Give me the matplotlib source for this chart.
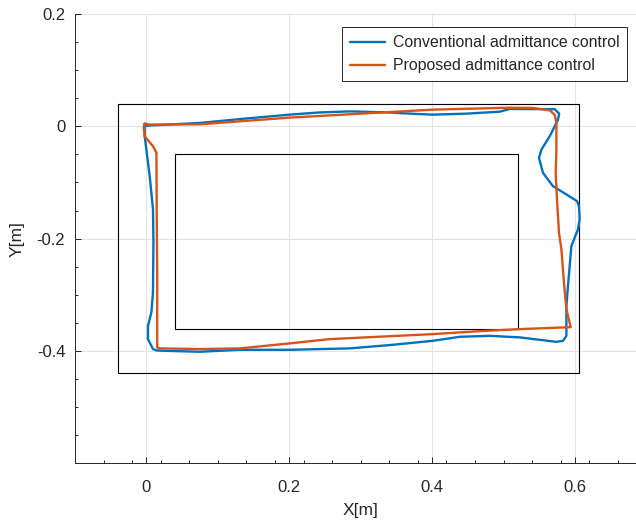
import matplotlib
matplotlib.use("Agg")
import matplotlib.pyplot as plt
from matplotlib.patches import Rectangle
from matplotlib.ticker import MultipleLocator, FixedLocator

plt.rcParams['font.family'] = ['Liberation Sans', 'DejaVu Sans']
plt.rcParams['axes.unicode_minus'] = False

# ---- data ----
conv_x = [0.0004, 0.0746, 0.1376, 0.2006, 0.2426, 0.2846, 0.3360, 0.3686, 0.4008, 0.4480,
          0.4948, 0.5086, 0.5716, 0.5779, 0.5762, 0.5646, 0.5530, 0.5496, 0.5552, 0.5692,
          0.5880, 0.6028, 0.6056, 0.6066, 0.6042, 0.5996, 0.5950, 0.5926, 0.5902, 0.5880,
          0.5880, 0.5880, 0.5832, 0.5740, 0.5226, 0.4806, 0.4386, 0.4008, 0.3406, 0.2846,
          0.2006, 0.1306, 0.0746, 0.0232, 0.0144, 0.0092, 0.0022, 0.0022, 0.0070, 0.0092,
          0.0098, 0.0092, 0.0046, -0.0024, -0.0024, 0.0004]
conv_y = [0.0012, 0.0060, 0.0137, 0.0208, 0.0247, 0.0266, 0.0249, 0.0226, 0.0208, 0.0226,
          0.0261, 0.0309, 0.0305, 0.0225, 0.0119, -0.0178, -0.0414, -0.0561, -0.0828, -0.1066,
          -0.1213, -0.1332, -0.1421, -0.1657, -0.1835, -0.1982, -0.2131, -0.2487, -0.2842, -0.3197,
          -0.3552, -0.3730, -0.3819, -0.3837, -0.3758, -0.3730, -0.3748, -0.3819, -0.3895, -0.3954,
          -0.3979, -0.3979, -0.4014, -0.3996, -0.3990, -0.3966, -0.3789, -0.3552, -0.3309, -0.2954,
          -0.2066, -0.1480, -0.0888, -0.0178, 0.0030, 0.0012]

prop_x = [-0.0024, 0.0046, 0.0746, 0.2006, 0.4008, 0.5086, 0.5412, 0.5646, 0.5716, 0.5740,
          0.5740, 0.5730, 0.5748, 0.5776, 0.5810, 0.5846, 0.5880, 0.5940, 0.5226, 0.4666,
          0.4008, 0.2566, 0.2006, 0.1306, 0.0746, 0.0186, 0.0151, 0.0151, 0.0144, 0.0140,
          0.0092, -0.0024, -0.0038, -0.0024]
prop_y = [0.0048, 0.0031, 0.0036, 0.0155, 0.0297, 0.0332, 0.0327, 0.0284, 0.0208, 0.0060,
          -0.0414, -0.0828, -0.1302, -0.1893, -0.2190, -0.2782, -0.3256, -0.3576, -0.3611, -0.3647,
          -0.3700, -0.3789, -0.3865, -0.3954, -0.3966, -0.3954, -0.3936, -0.2664, -0.1480, -0.0472,
          -0.0355, -0.0178, -0.0023, 0.0048]

outer_box = (-0.04, -0.44, 0.605, 0.04)   # x0, y0, x1, y1
inner_box = (0.04, -0.36, 0.52, -0.05)

labels = ['Conventional admittance control', 'Proposed admittance control']
xticks = [0, 0.2, 0.4, 0.6]
yticks = [-0.4, -0.2, 0, 0.2]
xtick_labels = ['0', '0.2', '0.4', '0.6']
ytick_labels = ['-0.4', '-0.2', '0', '0.2']

# ---- figure ----
W, H = 636, 520
fig = plt.figure(figsize=(W / 100, H / 100), dpi=100)
ax = fig.add_axes([75 / W, (H - 463.3) / H, 571.4 / W, (463.3 - 14) / H])

ax.set_xlim(-0.1, 0.7)
ax.set_ylim(-0.6, 0.2)

for (x0, y0, x1, y1) in (outer_box, inner_box):
    ax.add_patch(Rectangle((x0, y0), x1 - x0, y1 - y0, fill=False,
                           edgecolor='black', linewidth=0.8, zorder=2))

ax.plot(conv_x, conv_y, color='#0072BD', linewidth=1.7, label=labels[0], zorder=3,
        solid_joinstyle='round', solid_capstyle='round')
ax.plot(prop_x, prop_y, color='#D95319', linewidth=1.7, label=labels[1], zorder=4,
        solid_joinstyle='round', solid_capstyle='round')

ax.set_xticks(xticks)
ax.set_xticklabels(xtick_labels)
ax.set_yticks(yticks)
ax.set_yticklabels(ytick_labels)
ax.xaxis.set_minor_locator(FixedLocator([-0.1 + 0.04 * k for k in range(21)]))
ax.yaxis.set_minor_locator(MultipleLocator(0.05))

tick_color = '#262626'
ax.tick_params(which='both', direction='in', colors=tick_color, labelsize=12, width=0.7)
ax.tick_params(which='major', length=4.5)
ax.tick_params(which='minor', length=2.5)
ax.tick_params(axis='x', which='major', pad=12)
ax.tick_params(axis='y', which='major', pad=7)

ax.grid(True, which='major', color='#e3e3e3', linewidth=0.8)
ax.set_axisbelow(True)

for s in ('top', 'right'):
    ax.spines[s].set_visible(False)
for s in ('left', 'bottom'):
    ax.spines[s].set_color(tick_color)
    ax.spines[s].set_linewidth(0.7)

ax.set_xlabel('X[m]', fontsize=12.5, color=tick_color, va='center')
ax.xaxis.set_label_coords(0.5, (463.3 - 510) / 449.3)
ax.set_ylabel('Y[m]', fontsize=12.5, color=tick_color, va='center')
ax.yaxis.set_label_coords((17 - 75) / 571.4, 0.5)

leg = ax.legend(loc='upper right', bbox_to_anchor=(627.3 / W, 1 - 27.3 / H),
                bbox_transform=fig.transFigure, fontsize=11.4, frameon=True,
                fancybox=False, edgecolor='#262626', framealpha=1,
                handlelength=2.2, handletextpad=0.48,
                borderpad=0.5, labelspacing=0.5, borderaxespad=0)
leg.get_frame().set_linewidth(0.7)
for t in leg.get_texts():
    t.set_color(tick_color)

fig.savefig('out.png', dpi=100)
